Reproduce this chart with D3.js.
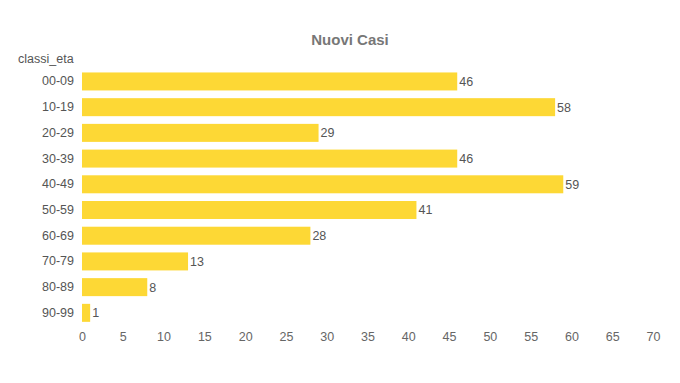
<!DOCTYPE html>
<html><head><meta charset="utf-8">
<script src="https://cdn.jsdelivr.net/npm/d3@7"></script>
<style>body{margin:0;background:#fff;}svg{display:block;font-family:Arial,"Liberation Sans",sans-serif;}</style>
</head><body>
<svg id="c" width="680" height="383"></svg>
<script>
const categories = ["00-09","10-19","20-29","30-39","40-49","50-59","60-69","70-79","80-89","90-99"];
const values = [46,58,29,46,59,41,28,13,8,1];
const xTicks = [0,5,10,15,20,25,30,35,40,45,50,55,60,65,70];

const svg = d3.select("#c");
const x = d3.scaleLinear().domain([0,70]).range([82,653]);
const y = d3.scaleBand().domain(categories).range([68.6,325.7]).paddingInner(0.3).paddingOuter(0.15);

svg.append("text").attr("x",350).attr("y",45).attr("text-anchor","middle")
  .attr("font-size",15).attr("font-weight","bold").attr("fill","#777").text("Nuovi Casi");
svg.append("text").attr("x",18).attr("y",63).attr("font-size",12.5).attr("fill","#555").text("classi_eta");

svg.selectAll("rect.bar").data(values).join("rect").attr("class","bar")
  .attr("x",x(0)).attr("y",(d,i)=>y(categories[i])).attr("width",d=>x(d)-x(0))
  .attr("height",y.bandwidth()).attr("fill","#FDD835");

svg.selectAll("text.val").data(values).join("text").attr("class","val")
  .attr("x",d=>x(d)+2).attr("y",(d,i)=>y(categories[i])+y.bandwidth()/2)
  .attr("dy","0.35em").attr("font-size",12.5).attr("fill","#555").text(d=>d);

const yAxis = svg.append("g").attr("transform",`translate(${x(0)},0)`)
  .call(d3.axisLeft(y).tickSize(0).tickPadding(8));
yAxis.select(".domain").remove();
yAxis.selectAll("text").attr("font-size",12.5).attr("fill","#555").attr("font-family","Arial,'Liberation Sans',sans-serif");

const xAxis = svg.append("g").attr("transform","translate(0,325)")
  .call(d3.axisBottom(x).tickValues(xTicks).tickSize(0).tickPadding(7));
xAxis.select(".domain").remove();
xAxis.selectAll("text").attr("font-size",12.5).attr("fill","#666").attr("font-family","Arial,'Liberation Sans',sans-serif");
</script>
</body></html>
